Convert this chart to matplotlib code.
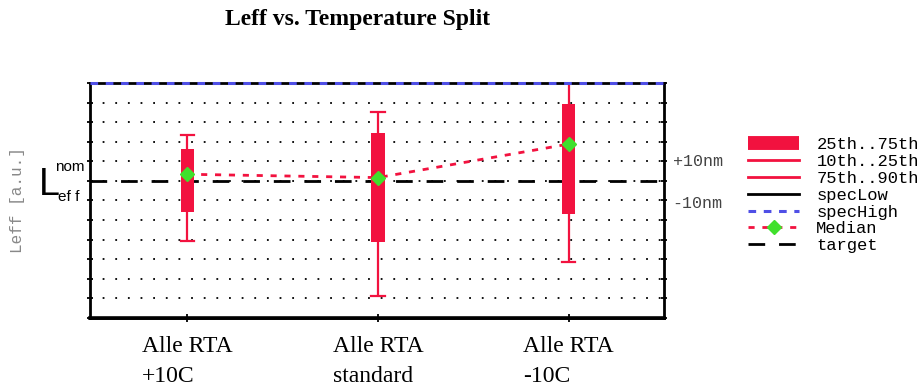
import matplotlib
matplotlib.use('Agg')
import matplotlib.pyplot as plt
import matplotlib.transforms as mtransforms
from matplotlib.lines import Line2D
from matplotlib.patches import Rectangle

# Leff percentiles per split, in nm relative to target
groups = ['Alle RTA\n+10C', 'Alle RTA\nstandard', 'Alle RTA\n-10C']
p10 = [-30.9, -59.0, -41.5]
p25 = [-15.9, -31.3, -17.1]
median = [3.4, 1.7, 18.8]
p75 = [16.3, 24.5, 39.3]
p90 = [23.2, 35.4, 56.0]
spec_low = -70
spec_high = 50
target = 0

red = '#f2123f'
green = '#40e02c'
blue = '#4f4fe6'
mono = 'Liberation Mono'
serif = 'Liberation Serif'

fig = plt.figure(figsize=(9.24, 3.88), dpi=100)
ax = fig.add_axes([0.0974, 0.1804, 0.6212, 0.6057])

pos = list(range(1, len(groups) + 1))
bw = 0.07

# dotted grid rows
for y in range(spec_low + 10, spec_high, 10):
    ax.axhline(y, color='black', lw=1.3, ls=(0, (1, 6)), zorder=1)

# target line
ax.axhline(target, color='black', lw=2, ls=(0, (6, 5)), zorder=2)

# whiskers, caps and boxes
for x, lo, q1, q3, hi in zip(pos, p10, p25, p75, p90):
    ax.plot([x, x], [lo, q1], color=red, lw=1.6, zorder=3, solid_capstyle='butt')
    ax.plot([x, x], [q3, hi], color=red, lw=1.6, zorder=3, solid_capstyle='butt')
    for c in (lo, hi):
        ax.plot([x - bw / 2, x + bw / 2], [c, c], color=red, lw=1.6, zorder=3)
    ax.add_patch(Rectangle((x - bw / 2, q1), bw, q3 - q1, facecolor=red,
                           edgecolor='none', zorder=4))

# median trend
ax.plot(pos, median, color=red, lw=2, ls=(0, (2.2, 2.8)), zorder=5)
ax.plot(pos, median, ls='none', marker='D', ms=7, color=green, zorder=6)

# spec limits
ax.axhline(spec_high, color=blue, lw=2.2, ls=(0, (2.5, 2.5)), zorder=7, clip_on=False)
ax.axhline(spec_low, color='black', lw=2, zorder=7, clip_on=False)

ax.set_xlim(0.49, 3.5)
ax.set_ylim(spec_low, spec_high)

ax.set_xticks(pos)
ax.set_xticklabels(groups, fontsize=17, family=serif, ha='center',
                   multialignment='left', linespacing=1.55)
ax.tick_params(axis='x', direction='inout', length=6, width=1.3, pad=10)
ax.set_yticks(range(spec_low, spec_high + 1, 10))
ax.set_yticklabels([])
ax.tick_params(axis='y', direction='inout', length=5, width=1.3, right=True)

ax.spines['left'].set_linewidth(2)
ax.spines['right'].set_linewidth(2)
ax.spines['top'].set_linewidth(2)
ax.spines['bottom'].set_linewidth(2.6)

# right side offsets
trans = mtransforms.blended_transform_factory(ax.transAxes, ax.transData)
ax.text(1.015, 10, '+10nm', transform=trans, family=mono, fontsize=12,
        color='#444444', va='center')
ax.text(1.015, -11.5, '-10nm', transform=trans, family=mono, fontsize=12,
        color='#444444', va='center')

# nominal Leff marker on the left
fig.text(39 / 924, 1 - 195 / 388, 'L', family='Liberation Sans', fontsize=27, va='baseline')
fig.text(55 / 924, 1 - 167 / 388, 'nom', family='Liberation Sans', fontsize=11, va='center')
fig.text(58 / 924, 1 - 197 / 388, 'ef f', family='Liberation Sans', fontsize=11, va='center')

fig.text(18 / 924, 1 - 200 / 388, 'Leff [a.u.]', family=mono, fontsize=11.5,
         color='#888888', rotation=90, ha='center', va='center')

fig.text(358 / 924, 1 - 19 / 388, 'Leff vs. Temperature Split', family=serif,
         fontsize=17, weight='bold', ha='center', va='center')

handles = [
    Line2D([], [], color=red, lw=10, solid_capstyle='butt'),
    Line2D([], [], color=red, lw=2),
    Line2D([], [], color=red, lw=2),
    Line2D([], [], color='black', lw=2),
    Line2D([], [], color=blue, lw=2.2, ls=(0, (2.5, 2.5))),
    Line2D([], [], color=red, lw=2, ls=(0, (2.2, 2.8)), marker='D', ms=7,
           markerfacecolor=green, markeredgecolor=green),
    Line2D([], [], color='black', lw=2, ls=(0, (6, 5))),
]
labels = ['25th..75th', '10th..25th', '75th..90th', 'specLow', 'specHigh', 'Median', 'target']
fig.legend(handles, labels, loc='upper left', bbox_to_anchor=(748 / 924, 1 - 137 / 388),
           frameon=False, prop={'family': mono, 'size': 12.3}, handlelength=3.0,
           labelspacing=0.11, handletextpad=1.0, borderaxespad=0, borderpad=0)

fig.savefig('out.png', dpi=100)
